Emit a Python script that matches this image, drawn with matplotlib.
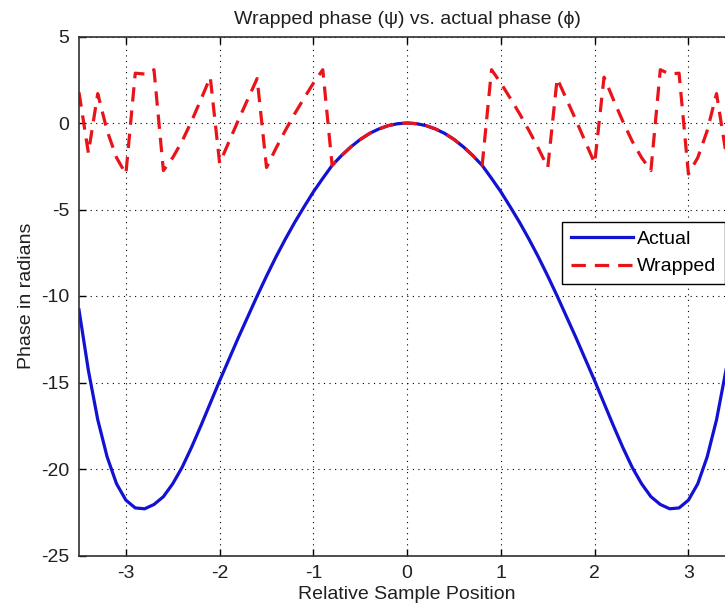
import numpy as np
import matplotlib
matplotlib.use("Agg")
import matplotlib.pyplot as plt

# sample positions and phase values (radians)
positions = [-3.5, -3.4, -3.3, -3.2, -3.1, -3.0, -2.9, -2.8, -2.7, -2.6,
             -2.5, -2.4, -2.3, -2.2, -2.1, -2.0, -1.9, -1.8, -1.7, -1.6,
             -1.5, -1.4, -1.3, -1.2, -1.1, -1.0, -0.9, -0.8, -0.7, -0.6,
             -0.5, -0.4, -0.3, -0.2, -0.1, 0.0, 0.1, 0.2, 0.3, 0.4,
             0.5, 0.6, 0.7, 0.8, 0.9, 1.0, 1.1, 1.2, 1.3, 1.4,
             1.5, 1.6, 1.7, 1.8, 1.9, 2.0, 2.1, 2.2, 2.3, 2.4,
             2.5, 2.6, 2.7, 2.8, 2.9, 3.0, 3.1, 3.2, 3.3, 3.4, 3.5]

actual = [-10.8, -14.3, -17.15, -19.3, -20.85, -21.8, -22.25, -22.3, -22.05, -21.6,
          -20.85, -19.9, -18.75, -17.5, -16.2, -14.9, -13.65, -12.4, -11.2, -10.0,
          -8.85, -7.75, -6.72, -5.75, -4.85, -3.98, -3.2, -2.45, -1.88, -1.38,
          -0.95, -0.6, -0.34, -0.15, -0.04, 0.0, -0.04, -0.15, -0.34, -0.6,
          -0.95, -1.38, -1.88, -2.45, -3.2, -3.98, -4.85, -5.75, -6.72, -7.75,
          -8.85, -10.0, -11.2, -12.4, -13.65, -14.9, -16.2, -17.5, -18.75, -19.9,
          -20.85, -21.6, -22.05, -22.3, -22.25, -21.8, -20.85, -19.3, -17.15, -14.3, -10.8]

wrapped = [1.77, -1.73, 1.70, -0.45, -2.00, -2.95, 2.88, 2.83, 3.08, -2.75,
           -2.00, -1.05, 0.10, 1.35, 2.65, -2.33, -1.08, 0.17, 1.37, 2.57,
           -2.57, -1.47, -0.44, 0.53, 1.43, 2.30, 3.08, -2.45, -1.88, -1.38,
           -0.95, -0.6, -0.34, -0.15, -0.04, 0.0, -0.04, -0.15, -0.34, -0.6,
           -0.95, -1.38, -1.88, -2.45, 3.08, 2.30, 1.43, 0.53, -0.44, -1.47,
           -2.57, 2.57, 1.37, 0.17, -1.08, -2.33, 2.65, 1.35, 0.10, -1.05,
           -2.00, -2.75, 3.08, 2.83, 2.88, -2.95, -2.00, -0.45, 1.70, -1.73, 1.77]

xticks = [-3, -2, -1, 0, 1, 2, 3]
yticks = [-25, -20, -15, -10, -5, 0, 5]

plt.rcParams['font.family'] = ['Liberation Sans', 'DejaVu Sans']
plt.rcParams['axes.unicode_minus'] = False

fig = plt.figure(figsize=(7.25, 6.11), dpi=100)
ax = fig.add_axes([79/725, 55.5/611, 656.3/725, 519/611])

ax.plot(positions, actual, color='#1212d2', lw=2.3, label='Actual')
ax.plot(positions, wrapped, color='#e8141a', lw=2.3, dashes=(4.5, 2.8), label='Wrapped')

ax.set_xlim(-3.5, 3.5)
ax.set_ylim(-25, 5)
ax.set_xticks(xticks)
ax.set_yticks(yticks)
ax.tick_params(direction='in', top=True, right=True, length=5, width=1,
               labelsize=14, pad=7, labelcolor='#202020')
ax.grid(True, color='black', lw=0.8, linestyle=(0, (1, 4)))
for s in ax.spines.values():
    s.set_linewidth(1.2)
    s.set_color('#303030')

ax.set_title('Wrapped phase (ψ) vs. actual phase (ϕ)', fontsize=14, pad=9, color='#202020')
ax.set_xlabel('Relative Sample Position', fontsize=14, labelpad=3, color='#202020')
ax.set_ylabel('Phase in radians', fontsize=14, labelpad=4, color='#202020')

leg = ax.legend(loc='upper right', bbox_to_anchor=(0.984, 0.643), fontsize=14,
                fancybox=False, framealpha=1, edgecolor='black',
                handlelength=3.2, borderpad=0.45, labelspacing=0.5,
                handletextpad=0.2, borderaxespad=0)
leg.get_frame().set_linewidth(1.0)

fig.savefig('out.png', dpi=100, facecolor='white')
